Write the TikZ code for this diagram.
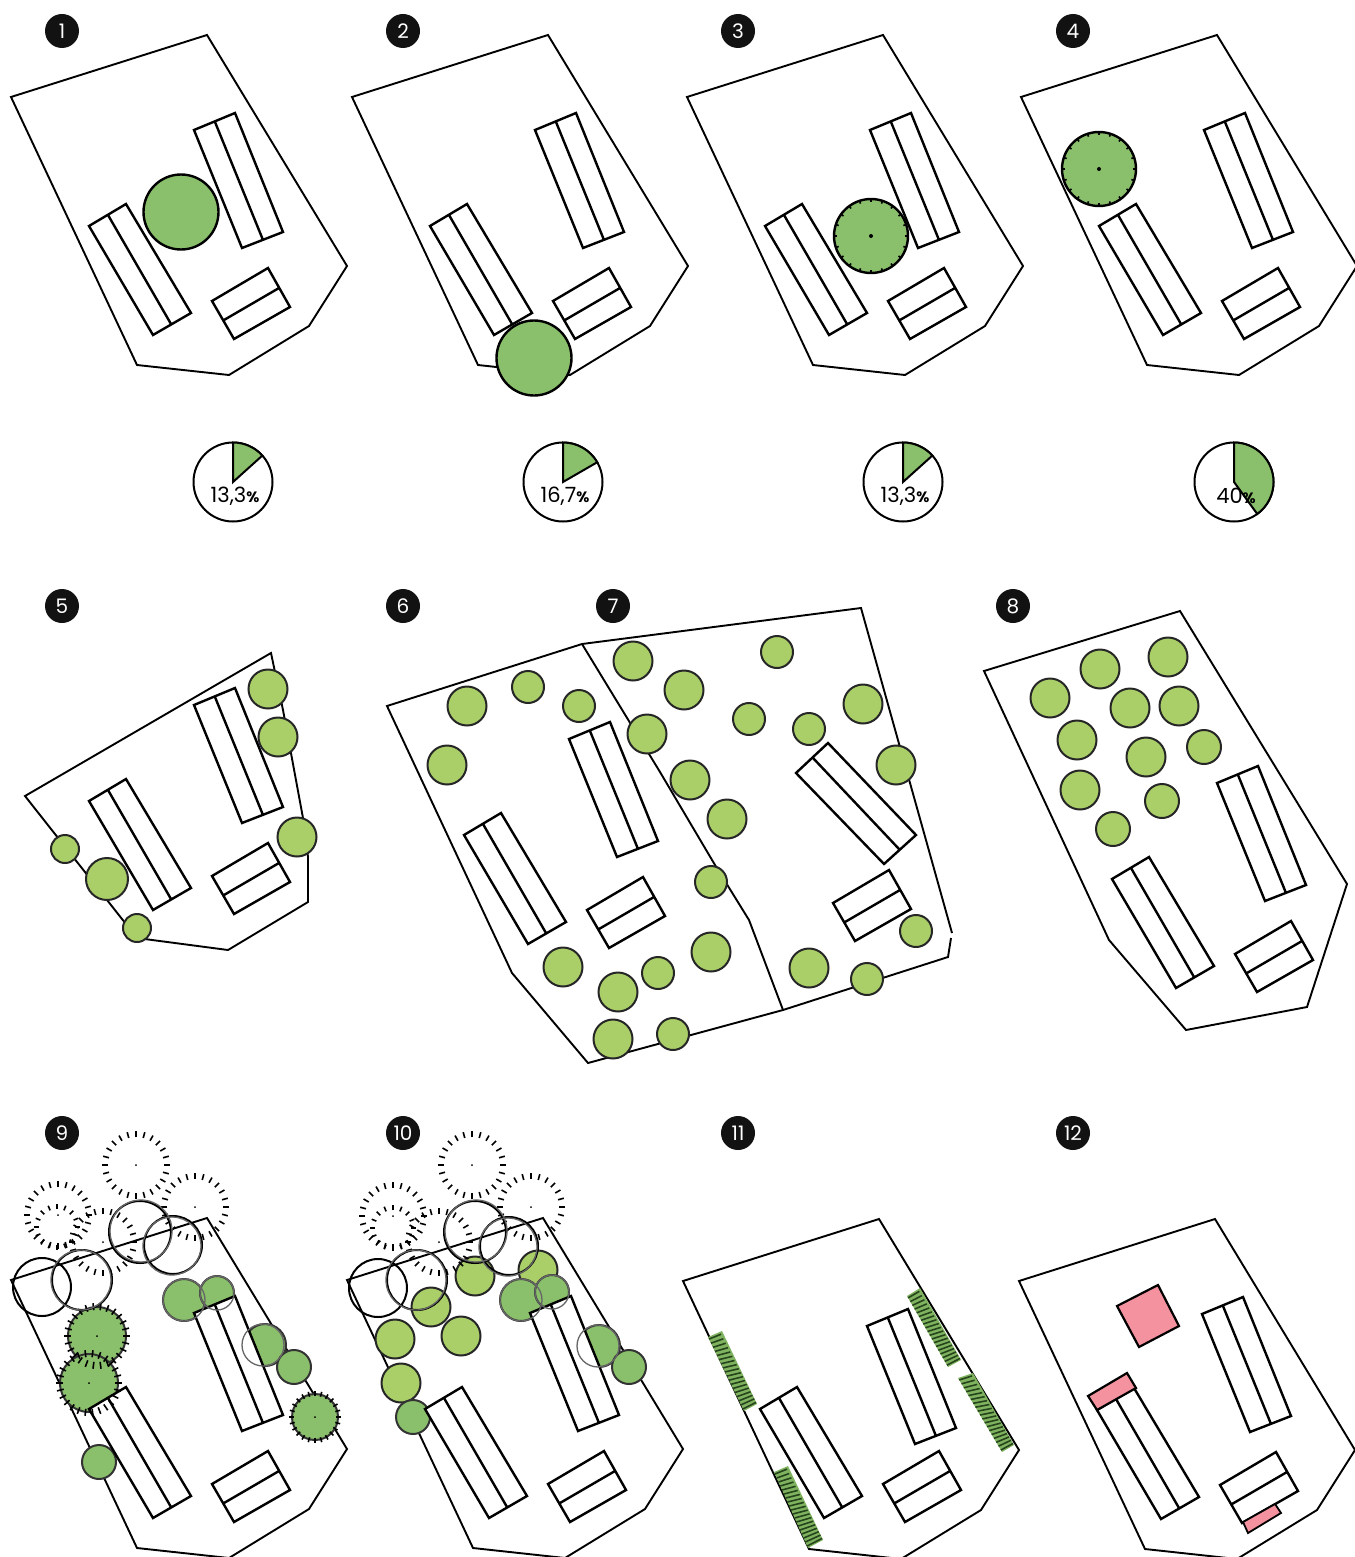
\documentclass[tikz,border=0pt]{standalone}
\usepackage{fontspec}
\setmainfont{Poppins}
\usetikzlibrary{calc}
\definecolor{treedarkgreen}{HTML}{8ABF6B}
\definecolor{treelightgreen}{HTML}{AACF69}
\definecolor{hedgegreen}{HTML}{7FB35F}
\definecolor{hedgebar}{HTML}{26441C}
\definecolor{pavedpink}{HTML}{F4939F}
\definecolor{ghostgrey}{HTML}{666666}

%% lot and the three blocks, at the position of panel 1
\newcommand{\lotbase}{\draw[lotline] (11,97) -- (207,35) -- (347,266) -- (309,326) -- (229,375) -- (137,365) -- cycle;}
\newcommand{\blockA}{\draw[blockline] (194,130) -- (235,113) -- (283,232) -- (242,248) -- cycle (215,122) -- (263,240);}
\newcommand{\blockB}{\draw[blockline] (89,226) -- (126,204) -- (191,313) -- (153,335) -- cycle (108,215) -- (171,324);}
\newcommand{\blockC}{\draw[blockline] (212,301) -- (268,268) -- (290,307) -- (234,339) -- cycle (224,320) -- (279,288);}
\newcommand{\blockset}{\blockA\blockB\blockC}
%% ring of short strokes: centre x, centre y, inner radius, outer radius, count
\newcommand{\spokes}[5]{\foreach \k in {1,...,#5}
  \draw[tickline, shift={(#1,#2)}] ({\k*360/#5}:#3) -- ({\k*360/#5}:#4);}
%% hedge: four corners and the number of bars
\newcommand{\hedge}[5]{\fill[hedgegreen] #1 -- #2 -- #3 -- #4 -- cycle;
  \foreach \k in {1,...,#5}
    \draw[hedgebar, line width=1.6pt] ($#1!{(\k-0.5)/#5}!#4$) -- ($#1!{(\k-0.5)/#5}!#4!0.85!#2!{(\k-0.5)/#5}!#3$);}

\begin{document}
\begin{tikzpicture}[x=1pt, y=-1pt,
                    every node/.style={inner sep=0pt},
                    lotline/.style={black, line width=1.9pt},
                    blockline/.style={black, fill=white, line width=2.4pt},
                    treelight/.style={draw=black!85, fill=treelightgreen, line width=2pt},
                    treedark/.style={draw=black!80, fill=treedarkgreen, line width=2pt},
                    treebig/.style={draw=black, fill=treedarkgreen, line width=2.4pt},
                    tickline/.style={black, line width=1.6pt},
                    openline/.style={black, line width=2pt},
                    ghostline/.style={ghostgrey, line width=1.3pt},
                    badge/.style={circle, fill=black!93, text=white, minimum size=34pt, font=\fontsize{20}{20}\selectfont},
                    pielabel/.style={black, font=\fontsize{21}{21}\selectfont},
                    pavedarea/.style={fill=pavedpink, draw=black, line width=2.2pt}]

  \useasboundingbox (0,0) rectangle (1354,1557);

  %% panel numbers
  \foreach \bx/\by/\num in {62/31/1, 403/31/2, 738/31/3, 1073/31/4,
                            62/606/5, 403/606/6, 613/606/7, 1013/606/8,
                            62/1133/9, 403/1133/10, 738/1133/11, 1073/1133/12}
    \node[badge] (badge\num) at (\bx,\by) {\num};

  %% panel 1
  \lotbase \blockset
  \draw[treebig] (181,212) circle[radius=37.5];

  %% panel 2
  \begin{scope}[shift={(341,0)}]
    \lotbase \blockset
    \draw[treebig] (193,358) circle[radius=37.5];
  \end{scope}

  %% panel 3
  \begin{scope}[shift={(676,0)}]
    \lotbase \blockset
    \draw[treebig] (195,236) circle[radius=37];
    \spokes{195}{236}{34}{37}{20}
    \fill (195,236) circle[radius=2];
  \end{scope}

  %% panel 4
  \begin{scope}[shift={(1010,0)}]
    \lotbase \blockset
    \draw[treebig] (89,169) circle[radius=37];
    \spokes{89}{169}{34}{37}{20}
    \fill (89,169) circle[radius=2];
  \end{scope}

  %% shares
  \foreach \px/\ang/\share/\nm in {233/42/{13,3}/a, 563/30/{16,7}/b, 903/42/{13,3}/c, 1234/-54/{40}/d} {
    \draw[black, line width=2pt] (\px,482) circle[radius=39.5];
    \draw[black, fill=treedarkgreen, line width=2pt]
      (\px,482) -- (\px,442.5) arc[start angle=-90, end angle={-\ang}, radius=39.5] -- cycle;
    \node[pielabel] (share\nm) at (\px+2,496) {\share{\fontsize{15}{15}\selectfont\bfseries\%}};
  }

  %% panel 5
  \draw[lotline] (25,796) -- (271,653) -- (283,710) -- (303,818) -- (308,857) -- (308,902) -- (228,950) -- (137,938) -- cycle;
  \begin{scope}[shift={(0,575)}]
    \blockset
  \end{scope}
  \foreach \tx/\ty/\rad in {268/689/19.5, 278/737/19.5, 297/837/19.5, 65/849/14, 107/879/21, 137/928/14}
    \draw[treelight] (\tx,\ty) circle[radius=\rad];

  %% panels 6 and 7
  \draw[lotline] (951,938) -- (948,957) -- (783,1010) -- (588,1063) -- (512,973) -- (387,706) -- (582,644) -- (861,608) -- (952,933);
  \draw[lotline] (582,644) -- (660,772) -- (715,865) -- (749,920) -- (783,1010);
  \begin{scope}[shift={(375,609)}]
    \blockset
  \end{scope}
  \begin{scope}[shift={(621,602)}]
    \blockC
  \end{scope}
  \draw[blockline] (796,773) -- (828,743) -- (916,835) -- (884,864) -- cycle (813,758) -- (899,849);
  \foreach \tx/\ty/\rad in {467/706/19.5, 528/687/16, 579/706/16, 447/765/19.5, 633/661/19.5, 647/734/19.5,
                            563/967/19.5, 618/992/19.5, 658/973/16, 613/1039/19.5, 684/690/19.5, 777/652/16,
                            749/719/16, 809/729/16, 863/704/19.5, 896/765/19.5, 690/780/19.5, 727/819/19.5,
                            711/882/16, 711/952/19.5, 809/968/19.5, 916/931/16, 867/979/16, 673/1034/16}
    \draw[treelight] (\tx,\ty) circle[radius=\rad];

  %% panel 8
  \draw[lotline] (984,671) -- (1180,611) -- (1347,884) -- (1307,1007) -- (1186,1030) -- (1109,940) -- cycle;
  \begin{scope}[shift={(1023,653)}]
    \blockset
  \end{scope}
  \foreach \tx/\ty/\rad in {1050/698/19.5, 1100/669/19.5, 1168/657/19.5, 1130/708/19.5, 1179/706/19.5, 1077/740/19.5,
                            1146/757/19.5, 1204/747/17, 1080/790/19.5, 1162/801/17, 1113/829/17}
    \draw[treelight] (\tx,\ty) circle[radius=\rad];

  %% panel 9
  \begin{scope}[shift={(0,1183)}]
    \lotbase
  \end{scope}
  \foreach \tx/\ty/\rad in {97/1336/29, 89/1383/29, 315/1417/23, 184/1300/21, 217/1293/17, 265/1345/21, 294/1367/17, 99/1462/17}
    \draw[treedark] (\tx,\ty) circle[radius=\rad];
  \begin{scope}[shift={(0,1183)}]
    \blockset
  \end{scope}
  \spokes{97}{1336}{26}{33}{26}
  \spokes{89}{1383}{26}{33}{26}
  \spokes{315}{1417}{21}{26}{24}
  \foreach \tx/\ty/\rad in {184/1300/21, 217/1293/17, 263/1345/21}
    \draw[ghostline] (\tx,\ty) circle[radius=\rad];
  \foreach \tx/\ty in {136/1165, 195/1207, 58/1215, 103/1242} {
    \spokes{\tx}{\ty}{28}{34}{24}
    \fill (\tx,\ty) circle[radius=1];
  }
  \spokes{57}{1227}{18}{23}{16}
  \foreach \tx/\ty/\rad in {140/1232/31, 173/1245/29, 82/1280/30, 42/1287/29}
    \draw[openline] (\tx,\ty) circle[radius=\rad];
  \foreach \tx/\ty/\rad in {141/1231/31, 172/1246/29, 81/1280/30}
    \draw[ghostline] (\tx,\ty) circle[radius=\rad];
  \foreach \tx/\ty in {97/1336, 89/1383, 315/1417}
    \fill (\tx,\ty) circle[radius=1];

  %% panel 10
  \begin{scope}[shift={(336,1183)}]
    \lotbase
  \end{scope}
  \foreach \tx/\ty/\rad in {475/1276/19.5, 538/1270/19.5, 431/1307/19.5, 461/1336/19.5, 395/1339/19.5, 401/1383/19.5}
    \draw[treelight] (\tx,\ty) circle[radius=\rad];
  \foreach \tx/\ty/\rad in {521/1300/21, 552/1292/17, 599/1346/21, 629/1367/17, 413/1417/17}
    \draw[treedark] (\tx,\ty) circle[radius=\rad];
  \begin{scope}[shift={(336,1183)}]
    \blockset
  \end{scope}
  \foreach \tx/\ty/\rad in {521/1300/21, 552/1292/17, 598/1346/21}
    \draw[ghostline] (\tx,\ty) circle[radius=\rad];
  \foreach \tx/\ty in {472/1165, 531/1207, 393/1216, 439/1242} {
    \spokes{\tx}{\ty}{28}{34}{24}
    \fill (\tx,\ty) circle[radius=1];
  }
  \spokes{393}{1228}{18}{23}{16}
  \foreach \tx/\ty/\rad in {475/1232/31, 509/1246/29, 417/1280/30, 378/1288/29}
    \draw[openline] (\tx,\ty) circle[radius=\rad];
  \foreach \tx/\ty/\rad in {476/1231/31, 508/1247/29, 416/1280/30}
    \draw[ghostline] (\tx,\ty) circle[radius=\rad];

  %% panel 11
  \begin{scope}[shift={(672,1184)}]
    \lotbase
  \end{scope}
  \begin{scope}[shift={(673,1196)}]
    \blockA
  \end{scope}
  \begin{scope}[shift={(671,1183)}]
    \blockB \blockC
  \end{scope}
  \hedge{(708,1337)}{(722,1331)}{(757,1404)}{(744,1411)}{18}
  \hedge{(907,1296)}{(920,1288)}{(961,1360)}{(948,1367)}{19}
  \hedge{(958,1378)}{(973,1373)}{(1014,1445)}{(1002,1452)}{19}
  \hedge{(774,1472)}{(788,1466)}{(823,1540)}{(808,1548)}{19}

  %% panel 12
  \begin{scope}[shift={(1008,1184)}]
    \lotbase \blockset
  \end{scope}
  \draw[pavedarea] (1117,1306) -- (1158,1285) -- (1179,1326) -- (1139,1347) -- cycle;
  \draw[pavedarea] (1088,1396) -- (1127,1373) -- (1136,1388) -- (1097,1410) -- cycle;
  \draw[pavedarea, line width=1.8pt] (1243,1522) -- (1275,1504) -- (1281,1513) -- (1248,1533) -- cycle;

\end{tikzpicture}
\end{document}
